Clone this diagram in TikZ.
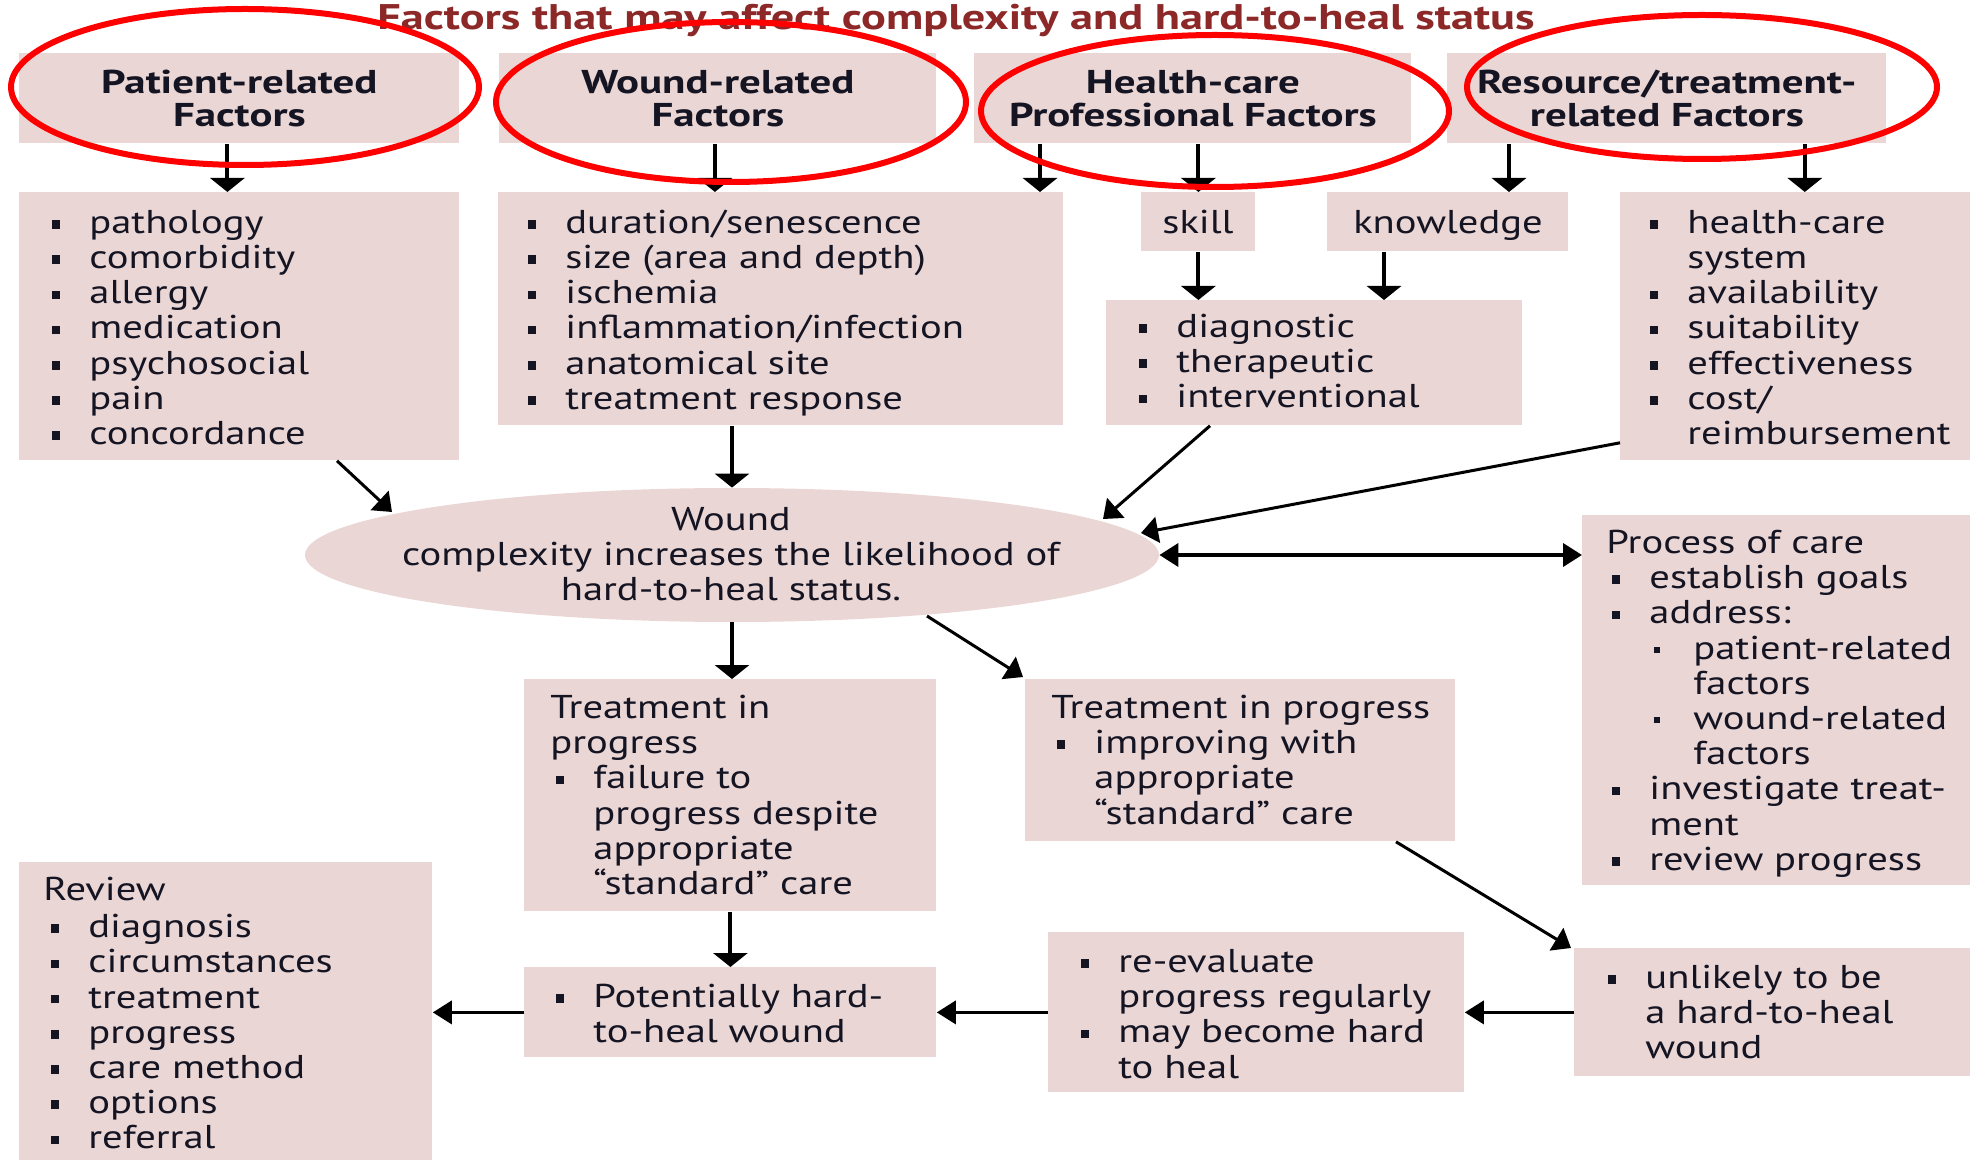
\documentclass[tikz,border=0pt]{standalone}
\usepackage{fontspec}
\setmainfont{PT Sans}[UprightFeatures={FakeStretch=1.23}, BoldFeatures={FakeStretch=1.3}]
\usetikzlibrary{arrows.meta,shapes.geometric,calc}
\definecolor{boxpink}{RGB}{234,214,212}
\definecolor{titlered}{RGB}{140,40,40}
\definecolor{ringred}{RGB}{255,0,0}
\definecolor{txt}{RGB}{20,20,35}
\newcommand{\bl}{\makebox[18.5pt][l]{\rule[2.3pt]{4pt}{4.3pt}}}
\newcommand{\ct}{\hspace*{18.5pt}}
\newcommand{\sbl}{\hspace*{18.5pt}\makebox[22pt][l]{\hspace*{2.5pt}\rule[3pt]{3pt}{3pt}}}
\newcommand{\sct}{\hspace*{40.5pt}}
\newcommand{\fs}{\rule{0pt}{13pt}}
\begin{document}
\begin{tikzpicture}[x=0.5pt,y=-0.5pt,
  box/.style={fill=boxpink, draw=none, inner sep=0pt, anchor=north west},
  txtnode/.style={inner sep=0pt, anchor=north west, align=left, text=txt,
    font={\fontsize{16.5}{17.6}\selectfont}},
  ctrnode/.style={inner sep=0pt, anchor=north, align=center, text=txt,
    font={\fontsize{16.5}{17.6}\selectfont}},
  headnode/.style={inner sep=0pt, align=center, text=txt,
    font={\fontsize{16.5}{16.5}\selectfont\bfseries}},
  arrV/.style={line width=2pt, -{Triangle[length=7pt,width=17pt]}},
  arrH/.style={line width=1.8pt, -{Triangle[length=9.5pt,width=11.5pt]}},
  arrD/.style={line width=1.5pt, -{Triangle[length=8.5pt,width=13pt]}},
  ring/.style={draw=ringred, line width=3pt}
]
\useasboundingbox (0,0) rectangle (1970,1160);

% title
\node[inner sep=0pt, anchor=base, text=titlered,
  font={\fontsize{17.8}{18}\selectfont\bfseries}] (title) at (956,30)
  {Factors that may affect complexity and hard-to-heal status};

% header boxes
\node[box, minimum width=220pt, minimum height=45pt] (H1) at (19,53) {};
\node[box, minimum width=218.5pt, minimum height=45pt] (H2) at (499,53) {};
\node[box, minimum width=218.5pt, minimum height=45pt] (H3) at (974,53) {};
\node[box, minimum width=219.5pt, minimum height=45pt] (H4) at (1447,53) {};
\node[headnode] (H1t) at (H1.center) {Patient-related\\Factors};
\node[headnode] (H2t) at (H2.center) {Wound-related\\Factors};
\node[headnode] (H3t) at (H3.center) {Health-care\\Professional Factors};
\node[headnode] (H4t) at (H4.center) {Resource/treatment-\\related Factors};

% second row
\node[box, minimum width=220pt, minimum height=134pt] (P) at (19,192) {};
\node[box, minimum width=282.5pt, minimum height=116.5pt] (W) at (498,192) {};
\node[box, minimum width=57pt, minimum height=29.5pt] (SK) at (1141,192) {};
\node[box, minimum width=120.5pt, minimum height=29.5pt] (KN) at (1327,192) {};
\node[box, minimum width=190pt, minimum height=134pt] (R) at (1620,192) {};
\node[box, minimum width=208pt, minimum height=62.5pt] (DG) at (1106,300) {};

\node[txtnode] (Pt) at (52,207) {\fs\bl pathology\\\bl comorbidity\\\bl allergy\\\bl medication\\\bl psychosocial\\\bl pain\\\bl concordance};
\node[txtnode] (Wt) at (528,207) {\fs\bl duration/senescence\\\bl size (area and depth)\\\bl ischemia\\\bl inflammation/infection\\\bl anatomical site\\\bl treatment response};
\node[ctrnode] (SKt) at (1198,207) {\fs skill};
\node[ctrnode] (KNt) at (1448,207) {\fs knowledge};
\node[txtnode] (Rt) at (1650,207) {\fs\bl health-care\\\ct system\\\bl availability\\\bl suitability\\\bl effectiveness\\\bl cost/\\\ct reimbursement};
\node[txtnode] (DGt) at (1139,311) {\fs\bl diagnostic\\\bl therapeutic\\\bl interventional};

% central ellipse
\node[ellipse, fill=boxpink, draw=none, inner sep=0pt, minimum width=427pt, minimum height=67pt] (E) at (732,555) {};
\node[ctrnode] (Et) at (731,504) {\fs Wound\\complexity increases the likelihood of\\hard-to-heal status.};

% process of care
\node[box, minimum width=210pt, minimum height=185pt] (PR) at (1582,515) {};
\node[txtnode] (PRt) at (1612,527) {\fs\hspace*{-3pt}Process of care\\\bl establish goals\\\bl address:\\\sbl patient-related\\\sct factors\\\sbl wound-related\\\sct factors\\\bl investigate treat-\\\ct ment\\\bl review progress};

% treatment boxes
\node[box, minimum width=206pt, minimum height=116pt] (TL) at (524,679) {};
\node[txtnode] (TLt) at (556,692) {\fs\hspace*{-3pt}Treatment in\\\hspace*{-3pt}progress\\\bl failure to\\\ct progress despite\\\ct appropriate\\\ct “standard” care};
\node[box, minimum width=215pt, minimum height=81pt] (TR) at (1025,679) {};
\node[txtnode] (TRt) at (1057,692) {\fs\hspace*{-3pt}Treatment in progress\\\bl improving with\\\ct appropriate\\\ct “standard” care};

% bottom row
\node[box, minimum width=206pt, minimum height=45pt] (PO) at (524,967) {};
\node[txtnode] (POt) at (556,981) {\fs\bl Potentially hard-\\\ct to-heal wound};
\node[box, minimum width=208pt, minimum height=80pt] (RE) at (1048,932) {};
\node[txtnode] (REt) at (1081,946) {\fs\bl re-evaluate\\\ct progress regularly\\\bl may become hard\\\ct to heal};
\node[box, minimum width=210pt, minimum height=64pt] (U) at (1574,948) {};
\node[txtnode] (Ut) at (1608,962) {\fs\bl unlikely to be\\\ct a hard-to-heal\\\ct wound};
\node[box, minimum width=206.5pt, minimum height=165pt] (RV) at (19,862) {};
\node[txtnode] (RVt) at (51,874) {\fs\hspace*{-4pt}Review\\[1pt]\bl diagnosis\\\bl circumstances\\\bl treatment\\\bl progress\\\bl care method\\\bl options\\\bl referral};

% connectors from headers
\draw[arrV] ([xshift=-6pt]H1.south) -- ([xshift=-6pt]H1.south |- P.north);
\draw[arrV] ([xshift=-1.5pt]H2.south) -- ([xshift=-1.5pt]H2.south |- W.north);
\draw[arrV] ([xshift=33pt]H3.south west) -- ([xshift=33pt]H3.south west |- W.north);
\draw[arrV] (SK.north |- H3.south) -- (SK.north);
\draw[arrV] ([xshift=31pt]H4.south west) -- ([xshift=31pt]H4.south west |- KN.north);
\draw[arrV] ([xshift=-41pt]H4.south east) -- ([xshift=-41pt]H4.south east |- R.north);
\draw[arrV] (SK.south) -- (SK.south |- DG.north);
\draw[arrV] ([xshift=28.5pt]KN.south west) -- ([xshift=28.5pt]KN.south west |- DG.north);

% into the ellipse
\draw[arrV] (E.north |- W.south) -- (E.north);
\draw[arrD] ([xshift=159pt]P.south west) -- ([shift={(-340,-43)}]E.center);
\draw[arrD] ([xshift=52pt]DG.south west) -- ([shift={(371,-36)}]E.center);
\draw[arrD] ([yshift=9pt]R.south west) -- ([shift={(409,-22)}]E.center);
\draw[line width=1.9pt, {Triangle[length=9.5pt,width=11.5pt]}-{Triangle[length=9.5pt,width=11.5pt]}] (E.east) -- (E.east -| PR.west);

% from the ellipse
\draw[arrV] (E.south) -- (E.south |- TL.north);
\draw[arrD] ([shift={(195,61)}]E.center) -- ([shift={(-2,-2)}]TR.north west);
\draw[arrV] (TL.south) -- (TL.south |- PO.north);
\draw[arrD] ([xshift=185.5pt]TR.south west) -- ([shift={(-3,0)}]U.north west);
\draw[arrH] (U.west) -- (U.west -| RE.east);
\draw[arrH] (RE.west) -- (RE.west -| PO.east);
\draw[arrH] (PO.west) -- (PO.west -| RV.east);

% red highlight rings
\draw[ring] (245,87) ellipse [x radius=117pt, y radius=39pt];
\draw[ring] (731,102) ellipse [x radius=117.5pt, y radius=40pt];
\draw[ring] (1215,111) ellipse [x radius=117pt, y radius=38pt];
\draw[ring] (1702,87) ellipse [x radius=117.5pt, y radius=36pt];
\end{tikzpicture}
\end{document}
